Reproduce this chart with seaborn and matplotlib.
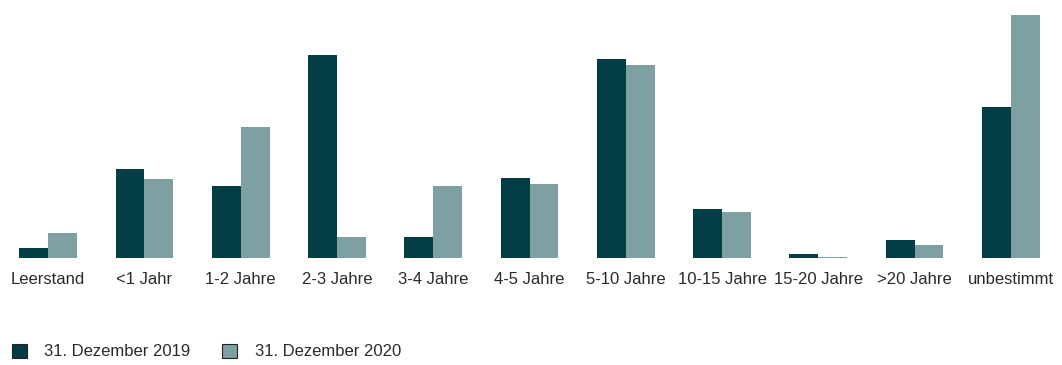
import matplotlib
matplotlib.use("Agg")
import matplotlib.pyplot as plt
import seaborn as sns
import pandas as pd
from matplotlib.patches import Patch

categories = ["Leerstand", "<1 Jahr", "1-2 Jahre", "2-3 Jahre", "3-4 Jahre", "4-5 Jahre",
              "5-10 Jahre", "10-15 Jahre", "15-20 Jahre", ">20 Jahre", "unbestimmt"]
values_2019 = [10.5, 89, 72, 203, 21, 80, 199, 49, 4, 18.5, 151.5]
values_2020 = [25, 79, 131, 21, 72, 74, 193, 46, 1.5, 13, 243.5]
series = ["31. Dezember 2019", "31. Dezember 2020"]
colors = ["#033d45", "#7fa0a3"]

df = pd.DataFrame({
    "cat": categories * 2,
    "val": values_2019 + values_2020,
    "series": [series[0]] * len(categories) + [series[1]] * len(categories),
})

sns.set_theme(style="white")
plt.rcParams["font.family"] = ["Liberation Sans", "DejaVu Sans"]

fig = plt.figure(figsize=(10.62, 3.65), dpi=100)
ax = fig.add_axes([0.0, (365 - 258) / 365, 1059 / 1062, (258 - 14.5) / 365])
sns.barplot(data=df, x="cat", y="val", hue="series", palette=colors, width=0.6,
            saturation=1, legend=False, ax=ax, linewidth=0)
ax.set_xlim(-0.5, 10.5)
ax.set_ylim(0, 243.5)
ax.set_xlabel("")
ax.set_ylabel("")
ax.set_yticks([])
for s in ax.spines.values():
    s.set_visible(False)
ax.tick_params(axis="x", length=0, pad=10, labelsize=12, labelcolor="#2a2a2a")

handles = [Patch(facecolor=c, edgecolor="#222222", linewidth=0.8) for c in colors]
fig.legend(handles, series, loc="center left", bbox_to_anchor=(0.0, (365 - 351.5) / 365),
           ncol=2, frameon=False, handlelength=0.9, handleheight=0.9,
           handletextpad=1.05, columnspacing=1.9, fontsize=12, borderaxespad=0.3,
           labelcolor="#2a2a2a")

fig.savefig("out.png", dpi=100)
